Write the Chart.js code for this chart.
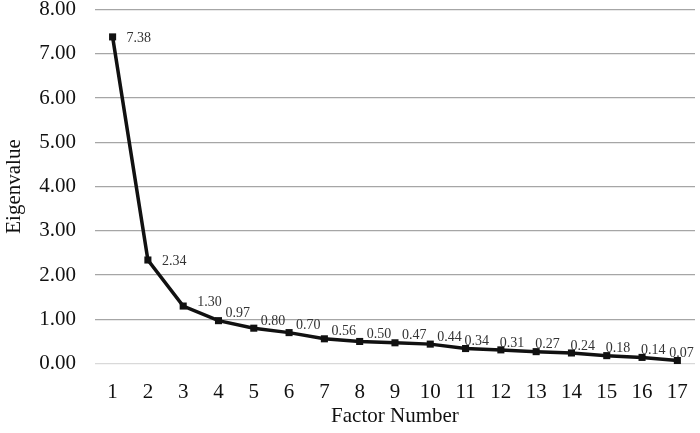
<!DOCTYPE html>
<html><head><meta charset="utf-8">
<script src="https://cdn.jsdelivr.net/npm/chart.js@4/dist/chart.umd.min.js"></script>
<style>html,body{margin:0;padding:0;background:#fff}#wrap{width:700px;height:433px}</style>
</head><body><div id="wrap"><canvas id="c" width="700" height="433"></canvas></div>
<script>
const factors = ['1','2','3','4','5','6','7','8','9','10','11','12','13','14','15','16','17'];
const eigenvalues = [7.38,2.34,1.30,0.97,0.80,0.70,0.56,0.50,0.47,0.44,0.34,0.31,0.27,0.24,0.18,0.14,0.07];
const yTicks = [0,1,2,3,4,5,6,7,8];
const FONT = '"Liberation Serif","Times New Roman",serif';

const labelPlugin = {
  id: 'pointLabels',
  afterDatasetsDraw(chart) {
    const ctx = chart.ctx;
    const meta = chart.getDatasetMeta(0);
    ctx.save();
    ctx.font = '14px ' + FONT;
    ctx.fillStyle = '#333';
    ctx.textAlign = 'left';
    ctx.textBaseline = 'middle';
    const n = meta.data.length;
    meta.data.forEach((pt, i) => {
      let dx = i < 3 ? 14 : (i < 10 ? 7 : -1);
      if (i === n - 1) dx = -8;
      const dy = i < 2 ? 1 : (i < 3 ? -4 : -7);
      ctx.fillText(eigenvalues[i].toFixed(2), pt.x + dx, pt.y + dy);
    });
    ctx.restore();
  }
};

new Chart(document.getElementById('c'), {
  type: 'line',
  data: {
    labels: factors,
    datasets: [{
      data: eigenvalues,
      borderColor: '#111',
      backgroundColor: '#111',
      borderWidth: 3.5,
      pointStyle: 'rect',
      pointRadius: 5,
      pointBorderWidth: 0,
      tension: 0,
      clip: false
    }]
  },
  options: {
    responsive: false,
    animation: false,
    devicePixelRatio: 1,
    layout: { padding: { left: 2, right: 0, top: 0, bottom: 4 } },
    plugins: { legend: { display: false }, tooltip: { enabled: false } },
    scales: {
      x: {
        offset: true,
        grid: { display: false },
        border: { display: false },
        ticks: { color: '#111', font: { family: FONT, size: 21 }, padding: 8 },
        title: { display: true, text: 'Factor Number', color: '#111', font: { family: FONT, size: 21 }, padding: { top: -9, bottom: 0 } }
      },
      y: {
        min: 0, max: 8,
        afterBuildTicks(axis) { axis.ticks = yTicks.map(v => ({ value: v })); },
        grid: {
          color: c => c.tick && c.tick.value === 0 ? '#d9d9d9' : '#a6a6a6',
          lineWidth: 1.2,
          drawTicks: true,
          tickLength: 19,
          tickColor: 'rgba(0,0,0,0)'
        },
        border: { display: false },
        ticks: {
          color: '#111', font: { family: FONT, size: 21, lineHeight: 0.9 }, padding: 0,
          callback: v => Number(v).toFixed(2)
        },
        title: { display: true, text: 'Eigenvalue', color: '#111', font: { family: FONT, size: 21 }, padding: { top: 0, bottom: 12 } }
      }
    }
  },
  plugins: [labelPlugin]
});
</script></body></html>
